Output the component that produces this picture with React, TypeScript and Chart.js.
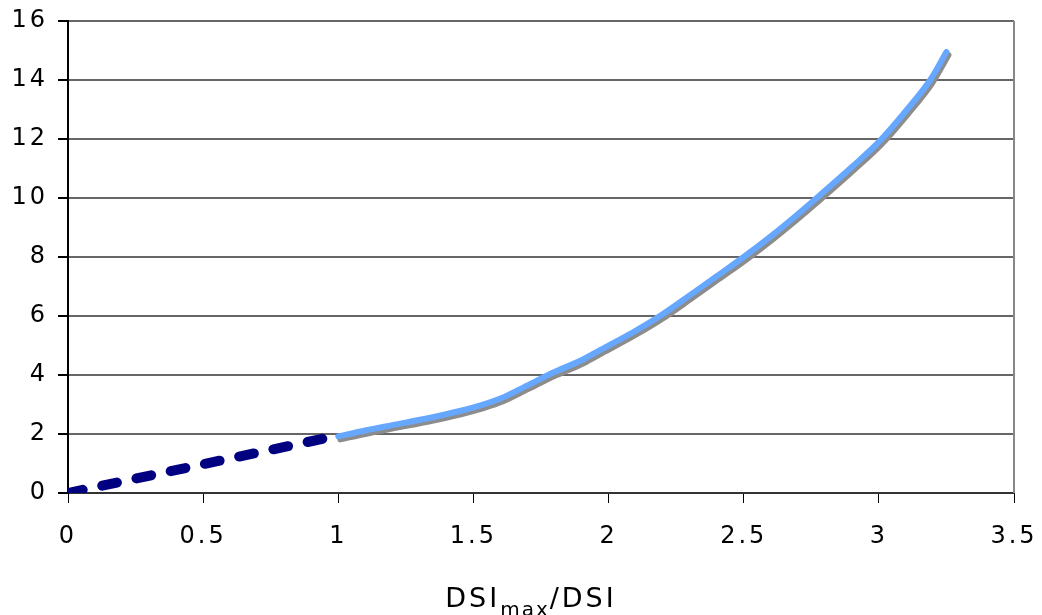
import React, { useEffect, useRef } from 'react';
import { Chart, registerables } from 'chart.js';

Chart.register(...registerables);

// Dashed segment (0..1)
const dashedX = [0, 1];
const dashedY = [0, 1.95];

// Solid curve (1..3.25)
const curveX = [1, 1.1, 1.2, 1.34, 1.45, 1.53, 1.6, 1.7, 1.8, 1.9, 1.97, 2.1, 2.19, 2.3, 2.4, 2.5, 2.6, 2.7, 2.77, 2.9, 3.0, 3.1, 3.19, 3.25];
const curveY = [1.92, 2.12, 2.3, 2.55, 2.78, 2.98, 3.2, 3.65, 4.1, 4.5, 4.85, 5.5, 6.0, 6.7, 7.35, 8.0, 8.7, 9.45, 10.0, 11.05, 11.9, 12.95, 14.0, 14.95];

const xMin = 0;
const xMax = 3.5;
const xStep = 0.5;
const yMin = 0;
const yMax = 16;
const yStep = 2;

const FONT = "'DejaVu Sans', Verdana, sans-serif";

const spacingPlugin = {
  id: 'spacing',
  beforeUpdate(chart: any) {
    chart.ctx.letterSpacing = '3px';
  },
  beforeDraw(chart: any) {
    chart.ctx.letterSpacing = '3px';
  },
};

const shadowPlugin = {
  id: 'lineShadow',
  beforeDatasetDraw(chart: any, args: any) {
    if (args.index === 1) {
      const c = chart.ctx;
      c.save();
      c.shadowColor = '#8c8c8c';
      c.shadowOffsetX = 2;
      c.shadowOffsetY = 3;
      c.shadowBlur = 0;
    }
  },
  afterDatasetDraw(chart: any, args: any) {
    if (args.index === 1) chart.ctx.restore();
  },
};

const borderPlugin = {
  id: 'rightBorder',
  afterDraw(chart: any) {
    const { ctx, chartArea } = chart;
    ctx.save();
    ctx.strokeStyle = '#888888';
    ctx.lineWidth = 2;
    ctx.beginPath();
    ctx.moveTo(chartArea.right, chartArea.top);
    ctx.lineTo(chartArea.right, chartArea.bottom);
    ctx.stroke();
    ctx.restore();
  },
};

export default function App() {
  const ref = useRef<HTMLCanvasElement | null>(null);

  useEffect(() => {
    if (!ref.current) return;
    const chart = new Chart(ref.current, {
      type: 'scatter',
      data: {
        datasets: [
          {
            label: 'dashed',
            data: dashedX.map((x, i) => ({ x, y: dashedY[i] })),
            showLine: true,
            borderColor: '#000080',
            backgroundColor: '#000080',
            borderWidth: 10,
            borderDash: [15, 20],
            borderCapStyle: 'round',
            pointRadius: 0,
          },
          {
            label: 'curve',
            data: curveX.map((x, i) => ({ x, y: curveY[i] })),
            showLine: true,
            borderColor: '#66a8ff',
            backgroundColor: '#66a8ff',
            borderWidth: 6,
            borderCapStyle: 'round',
            borderJoinStyle: 'round',
            cubicInterpolationMode: 'monotone',
            pointRadius: 0,
          },
        ],
      },
      options: {
        animation: false,
        responsive: false,
        devicePixelRatio: 1,
        layout: { padding: { top: 21, right: 28, left: 0, bottom: 0 } },
        plugins: {
          legend: { display: false },
          tooltip: { enabled: false },
        },
        scales: {
          x: {
            type: 'linear',
            min: xMin,
            max: xMax,
            afterFit(scale: any) {
              scale.height = 122;
              scale.paddingLeft = 0;
              scale.paddingRight = 0;
            },
            ticks: {
              stepSize: xStep,
              color: '#000',
              padding: 19,
              font: { family: FONT, size: 24 },
              maxRotation: 0,
              callback: (v: any) => String(Math.round(Number(v) * 10) / 10),
            },
            grid: {
              drawOnChartArea: false,
              drawTicks: true,
              tickLength: 10,
              tickColor: '#000',
              color: '#000',
            },
            border: { display: true, color: '#333', width: 2 },
          },
          y: {
            type: 'linear',
            min: yMin,
            max: yMax,
            afterFit(scale: any) {
              scale.width = 68;
              scale.paddingTop = 0;
              scale.paddingBottom = 0;
            },
            ticks: {
              stepSize: yStep,
              color: '#000',
              padding: 10,
              font: { family: FONT, size: 24 },
            },
            grid: {
              drawOnChartArea: true,
              drawTicks: true,
              tickLength: 10,
              tickColor: '#000',
              color: '#666666',
              lineWidth: 2,
            },
            border: { display: true, color: '#000', width: 2 },
          },
        },
      },
      plugins: [spacingPlugin, shadowPlugin, borderPlugin],
    } as any);
    return () => chart.destroy();
  }, []);

  return (
    <div style={{ position: 'fixed', left: 0, top: 0, width: 1042, height: 615, background: '#fff' }}>
      <canvas ref={ref} width={1042} height={615} style={{ display: 'block' }} />
      <div
        style={{
          position: 'absolute',
          left: 0,
          width: 1062,
          top: 584,
          textAlign: 'center',
          fontFamily: FONT,
          fontSize: 27,
          lineHeight: '27px',
          letterSpacing: '3px',
          color: '#000',
          whiteSpace: 'nowrap',
        }}
      >
        DSI<sub style={{ fontSize: 20, verticalAlign: '-9px', lineHeight: 0, letterSpacing: '2px' }}>max</sub>/DSI
      </div>
    </div>
  );
}
